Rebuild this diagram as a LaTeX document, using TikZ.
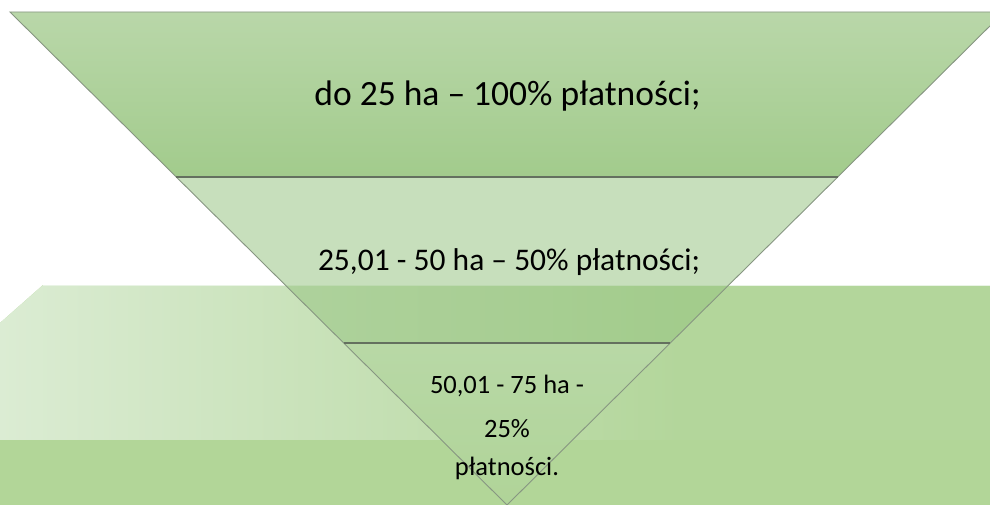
\documentclass[tikz,border=0pt]{standalone}
\usepackage{fontspec}
\setmainfont{Carlito}
\definecolor{bgA}{RGB}{219,236,211}
\definecolor{bgB}{RGB}{179,214,155}
\definecolor{bgFront}{RGB}{178,214,152}
\definecolor{topA}{RGB}{185,215,169}
\definecolor{topB}{RGB}{162,203,140}
\definecolor{midC}{RGB}{149,195,128}
\definecolor{lowA}{RGB}{184,216,166}
\definecolor{lowB}{RGB}{176,212,152}
\definecolor{edgeC}{RGB}{135,150,130}
\definecolor{sepC}{RGB}{100,112,95}
\tikzset{
  edgeline/.style={draw=edgeC, line width=0.9pt},
  sepline/.style={draw=sepC, line width=1.6pt},
  lbl/.style={anchor=base, inner sep=0pt, text=black}
}
\begin{document}
\begin{tikzpicture}[x=1pt,y=-1pt]
\useasboundingbox (0,0) rectangle (990,505);
\clip (0,0) rectangle (990,505);
\fill[white] (0,0) rectangle (990,505);
% background slab
\fill[bgB] (43,285) -- (990,285) -- (990,440) -- (0,440) -- (0,323) -- cycle;
\shade[left color=bgA, right color=bgB] (43,285) -- (680,285) -- (680,440) -- (0,440) -- (0,323) -- cycle;
\fill[bgFront] (0,440) rectangle (990,505);
\draw[draw=bgA!60!white, line width=1pt] (43,285.5) -- (990,285.5);
% band 1
\shade[top color=topA, bottom color=topB] (10,12) -- (1004,12) -- (837.7,177) -- (176.3,177) -- cycle;
\draw[edgeline] (176.3,177) -- (10,12) -- (1004,12) -- (837.7,177);
% band 2
\fill[midC, fill opacity=0.52] (176.3,177) -- (837.7,177) -- (670.3,343) -- (343.7,343) -- cycle;
\draw[edgeline] (176.3,177) -- (343.7,343);
\draw[edgeline] (837.7,177) -- (670.3,343);
% band 3
\shade[top color=lowA, bottom color=lowB] (343.7,343) -- (670.3,343) -- (507,505) -- cycle;
\draw[edgeline] (343.7,343) -- (507,505) -- (670.3,343);
% separators
\draw[sepline] (176.3,177) -- (837.7,177);
\draw[sepline] (343.7,343) -- (670.3,343);
% labels
\node[lbl, font=\fontsize{35.5}{42}\selectfont] (t1) at (507.5,106) {do 25 ha – 100\% płatności;};
\node[lbl, font=\fontsize{31.5}{38}\selectfont] (t2) at (509,270) {25,01 - 50 ha – 50\% płatności;};
\node[lbl, font=\fontsize{26.5}{32}\selectfont] (t3a) at (507,393) {50,01 - 75 ha -};
\node[lbl, font=\fontsize{26.5}{32}\selectfont] (t3b) at (507,437) {25\%};
\node[lbl, font=\fontsize{26.5}{32}\selectfont] (t3c) at (507,475) {płatności.};
\end{tikzpicture}
\end{document}
